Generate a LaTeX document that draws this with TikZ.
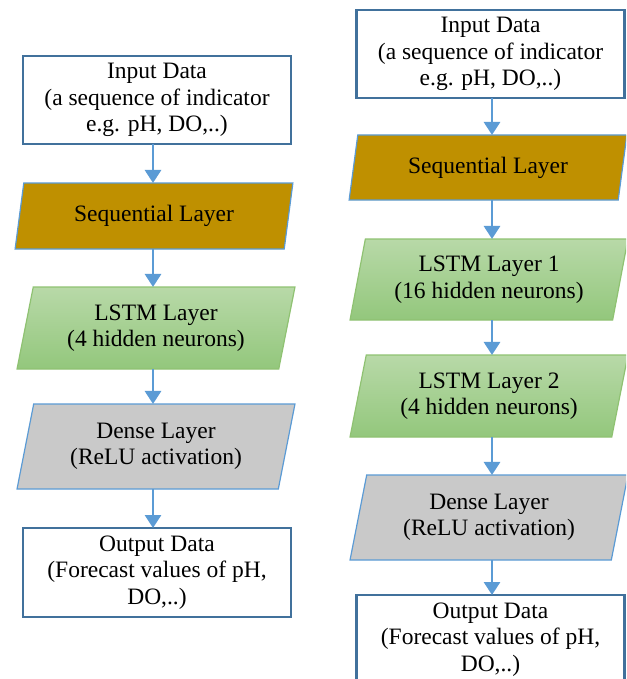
\documentclass[tikz,border=0pt]{standalone}
\usepackage{fontspec}
\setmainfont{Liberation Serif}
\newfontfamily\labelfont{Liberation Serif}
\usetikzlibrary{shapes.geometric,arrows.meta}
\definecolor{boxline}{HTML}{41719C}
\definecolor{flowblue}{HTML}{5B9BD5}
\definecolor{seqfill}{HTML}{BF9000}
\definecolor{densefill}{HTML}{C9C9C9}
\definecolor{lstmtop}{HTML}{B8D9A8}
\definecolor{lstmbot}{HTML}{93C77C}
\definecolor{lstmline}{HTML}{8FC272}
\begin{document}
\begin{tikzpicture}[x=1pt,y=-1pt,
  every node/.style={font=\labelfont\fontsize{23.5}{26.5}\selectfont, align=center,
    inner sep=0pt, outer sep=0pt},
  databox/.style={draw=boxline, line width=2.5pt, fill=white,
    minimum width=268pt, minimum height=88pt},
  layer/.style={trapezium, trapezium left angle=76, trapezium right angle=104,
    trapezium stretches=true, minimum width=278pt, line width=1.2pt},
  seqlayer/.style={layer, draw=flowblue, fill=seqfill},
  lstmlayer/.style={layer, draw=lstmline, top color=lstmtop, bottom color=lstmbot},
  denselayer/.style={layer, draw=flowblue, fill=densefill},
  flow/.style={draw=flowblue, line width=2.8pt, -{Triangle[width=16pt,length=13pt]}}
]
\useasboundingbox (0,0) rectangle (626,679);
\fill[white] (0,0) rectangle (626,679);
\clip (0,0) rectangle (626,679);

% single-layer model (left)
\node[databox] (inL) at (157,100) {Input Data\\(a sequence of indicator\\e.g. pH, DO,..)};
\node[seqlayer, minimum height=66pt] (seqL) at (154,216) {Sequential Layer};
\node[lstmlayer, minimum height=82pt] (lstmL) at (156,328) {LSTM Layer\\(4 hidden neurons)};
\node[denselayer, minimum height=85pt] (denseL) at (156,446.5) {Dense Layer\\(ReLU activation)};
\node[databox, minimum height=89pt] (outL) at (157,572.5) {Output Data\\(Forecast values of pH,\\DO,..)};

% two-layer model (right)
\node[databox] (inR) at (490.5,54) {Input Data\\(a sequence of indicator\\e.g. pH, DO,..)};
\node[seqlayer, minimum height=65pt] (seqR) at (488,167.5) {Sequential Layer};
\node[lstmlayer, minimum height=81pt] (lstmAR) at (489,279.5) {LSTM Layer 1\\(16 hidden neurons)};
\node[lstmlayer, minimum height=82pt] (lstmBR) at (489,396) {LSTM Layer 2\\(4 hidden neurons)};
\node[denselayer, minimum height=85pt] (denseR) at (489,517.5) {Dense Layer\\(ReLU activation)};
\node[databox, minimum height=89pt] (outR) at (490.5,639.5) {Output Data\\(Forecast values of pH,\\DO,..)};

% flow axes
\coordinate (axL) at (153,0);
\coordinate (axR) at (492,0);

\draw[flow] (inL.south -| axL) -- (seqL.north -| axL);
\draw[flow] (seqL.south -| axL) -- (lstmL.north -| axL);
\draw[flow] (lstmL.south -| axL) -- (denseL.north -| axL);
\draw[flow] (denseL.south -| axL) -- (outL.north -| axL);

\draw[flow] (inR.south -| axR) -- (seqR.north -| axR);
\draw[flow] (seqR.south -| axR) -- (lstmAR.north -| axR);
\draw[flow] (lstmAR.south -| axR) -- (lstmBR.north -| axR);
\draw[flow] (lstmBR.south -| axR) -- (denseR.north -| axR);
\draw[flow] (denseR.south -| axR) -- (outR.north -| axR);
\end{tikzpicture}
\end{document}
